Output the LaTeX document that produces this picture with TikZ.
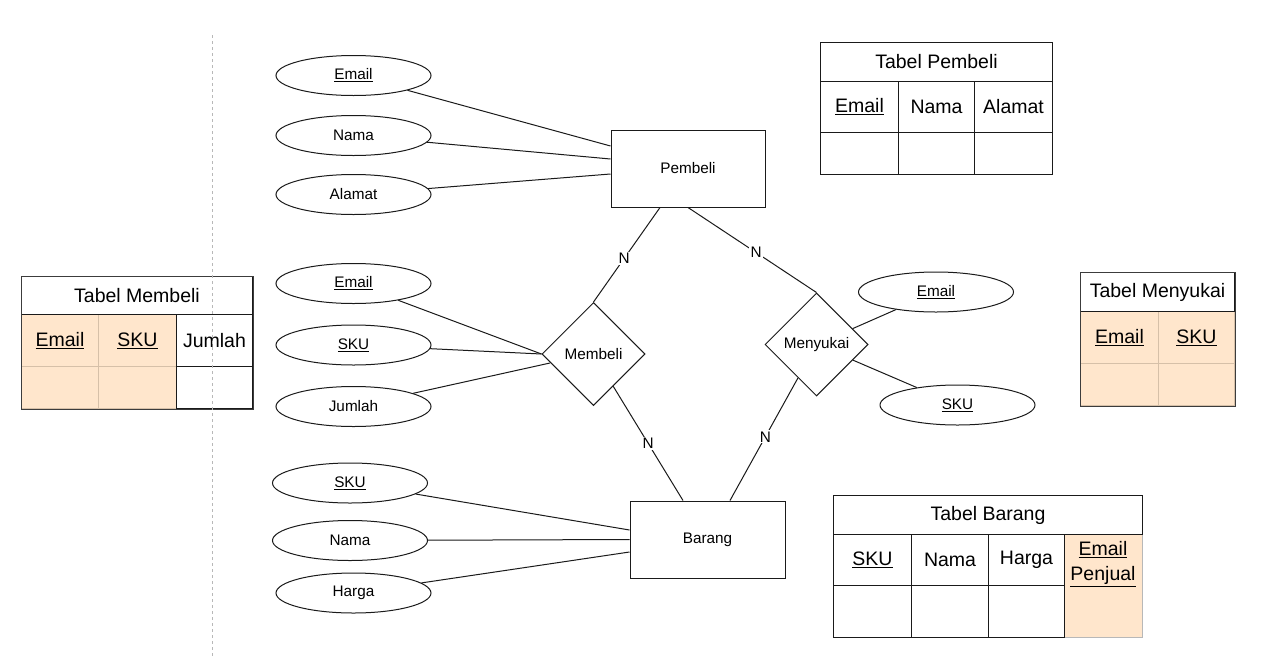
\documentclass[tikz,border=0pt]{standalone}
\usepackage{fontspec}
\setmainfont{Liberation Sans}
\usetikzlibrary{shapes.geometric,calc}
\definecolor{peach}{HTML}{FFE6CC}
\definecolor{peachline}{HTML}{D6C0A8}
\definecolor{frame}{HTML}{3C3C3C}
\definecolor{ink}{HTML}{1A1A1A}
\definecolor{sep}{HTML}{B8B8B8}
\newcommand{\diagfont}{\fontsize{15.3}{18}\selectfont}
\newcommand{\tablefont}{\fontsize{19.5}{25}\selectfont}
\tikzset{
  conn/.style={line width=1pt, draw=ink},
  attr/.style={ellipse, draw=ink, line width=1pt, minimum width=155pt, minimum height=40pt, inner sep=0pt, font=\diagfont},
  entity/.style={rectangle, draw=ink, line width=1pt, minimum width=154pt, minimum height=77pt, inner sep=0pt, font=\diagfont},
  rel/.style={diamond, draw=ink, aspect=1, line width=1pt, minimum width=103pt, minimum height=103pt, inner sep=0pt, font=\diagfont},
  card/.style={fill=white, inner sep=1.2pt, font=\diagfont},
  cell/.style={draw=ink, line width=1pt, anchor=north west, inner sep=0pt, align=center, font=\tablefont},
  keycell/.style={cell, fill=peach, draw=peachline},
}
\begin{document}
\begin{tikzpicture}[x=1pt,y=-1pt]
\useasboundingbox (0,0) rectangle (1263,662);
\fill[white] (0,0) rectangle (1263,662);

% ---- entities and relationships ----
\node[entity] (pembeli) at (688,168.5) {Pembeli};
\node[entity, minimum width=155pt] (barang) at (707.5,539.5) {Barang};
\node[rel] (membeli) at (593.5,354) {Membeli};
\node[rel] (menyukai) at (816.5,344.5) {Menyukai};

% ---- attributes of Pembeli ----
\node[attr] (pbEmail) at (353.5,75.5) {\underline{Email}};
\node[attr] (pbNama) at (353.5,135.5) {Nama};
\node[attr] (pbAlamat) at (353.5,194.5) {Alamat};

% ---- attributes of Membeli ----
\node[attr] (mbEmail) at (353.5,283.5) {\underline{Email}};
\node[attr] (mbSku) at (353.5,345) {\underline{SKU}};
\node[attr] (mbJumlah) at (353.5,406.5) {Jumlah};

% ---- attributes of Menyukai ----
\node[attr] (mnEmail) at (936,292) {\underline{Email}};
\node[attr] (mnSku) at (957.5,405) {\underline{SKU}};

% ---- attributes of Barang ----
\node[attr] (brSku) at (350,483) {\underline{SKU}};
\node[attr] (brNama) at (350,540.5) {Nama};
\node[attr] (brHarga) at (353.5,593) {Harga};

% ---- attribute links ----
\draw[conn] (pbEmail) -- ([yshift=22.5pt]pembeli.west);
\draw[conn] (pbNama) -- ([yshift=9.5pt]pembeli.west);
\draw[conn] (pbAlamat) -- ([yshift=-5.5pt]pembeli.west);

\draw[conn] (mbEmail) -- (membeli.west);
\draw[conn] (mbSku) -- (membeli.west);
\draw[conn] (mbJumlah) -- ([xshift=8.5pt,yshift=-9pt]membeli.west);

\draw[conn] (mnEmail) -- (menyukai);
\draw[conn] (mnSku) -- (menyukai);

\draw[conn] (brSku) -- ([yshift=9.5pt]barang.west);
\draw[conn] (brNama) -- (barang.west);
\draw[conn] (brHarga) -- ([yshift=-12.5pt]barang.west);

% ---- relationship links with cardinalities ----
\draw[conn] (membeli.north) -- node[card, pos=0.46] {N} ([xshift=-28pt]pembeli.south);
\draw[conn] (pembeli.south) -- node[card, pos=0.53] {N} (menyukai.north);
\draw[conn] (membeli) -- node[card, pos=0.5] {N} ([xshift=-24.5pt]barang.north);
\draw[conn] (menyukai) -- node[card, pos=0.48] {N} ([xshift=22.5pt]barang.north);

% ---- Tabel Pembeli ----
\node[cell, minimum width=232pt, minimum height=39pt] (tpHead) at (820,42) {Tabel Pembeli};
\node[cell, minimum width=78pt, minimum height=51pt] (tpEmail) at (820,81) {\underline{Email}};
\node[cell, minimum width=76pt, minimum height=51pt] (tpNama) at (898,81) {Nama};
\node[cell, minimum width=78pt, minimum height=51pt] (tpAlamat) at (974,81) {Alamat};
\node[cell, minimum width=78pt, minimum height=42pt] (tpR1) at (820,132) {};
\node[cell, minimum width=76pt, minimum height=42pt] (tpR2) at (898,132) {};
\node[cell, minimum width=78pt, minimum height=42pt] (tpR3) at (974,132) {};

% ---- Tabel Membeli ----
\node[keycell, minimum width=77pt, minimum height=52pt] (tmEmail) at (21,314) {\underline{Email}};
\node[keycell, minimum width=78pt, minimum height=52pt] (tmSku) at (98,314) {\underline{SKU}};
\node[keycell, minimum width=77pt, minimum height=42pt] (tmR1) at (21,366) {};
\node[keycell, minimum width=78pt, minimum height=42pt] (tmR2) at (98,366) {};
\node[cell, minimum width=76pt, minimum height=52pt] (tmJumlah) at (176,314) {Jumlah};
\node[cell, minimum width=76pt, minimum height=42pt] (tmR3) at (176,366) {};
\node[cell, minimum width=231pt, minimum height=38pt] (tmHead) at (21,276) {Tabel Membeli};
\draw[frame, line width=1pt] (tmHead.north west) rectangle (tmR3.south east);

% ---- Tabel Menyukai ----
\node[keycell, minimum width=78pt, minimum height=52pt] (tyEmail) at (1080,311) {\underline{Email}};
\node[keycell, minimum width=76pt, minimum height=52pt] (tySku) at (1158,311) {\underline{SKU}};
\node[keycell, minimum width=78pt, minimum height=42pt] (tyR1) at (1080,363) {};
\node[keycell, minimum width=76pt, minimum height=42pt] (tyR2) at (1158,363) {};
\node[cell, minimum width=154pt, minimum height=39pt] (tyHead) at (1080,272) {Tabel Menyukai};
\draw[frame, line width=1pt] (tyHead.north west) rectangle (tyR2.south east);

% ---- Tabel Barang ----
\node[keycell, draw=sep, minimum width=78pt, minimum height=103pt] (tbPenjual) at (1064,534) {};
\node[font=\tablefont, align=center, inner sep=0pt] (tbPenjualTxt) at (1103,564) {\underline{Email}\\\underline{Penjual}};
\node[cell, minimum width=78pt, minimum height=51pt] (tbSku) at (833,534) {\underline{SKU}};
\node[cell, minimum width=77pt, minimum height=51pt] (tbNama) at (911,534) {Nama};
\node[cell, minimum width=76pt, minimum height=51pt] (tbHarga) at (988,534) {Harga};
\node[cell, minimum width=78pt, minimum height=52pt] (tbR1) at (833,585) {};
\node[cell, minimum width=77pt, minimum height=52pt] (tbR2) at (911,585) {};
\node[cell, minimum width=76pt, minimum height=52pt] (tbR3) at (988,585) {};
\node[cell, minimum width=309pt, minimum height=39pt] (tbHead) at (833,495) {Tabel Barang};

% ---- dashed separator ----
\coordinate (sepTop) at (212,35);
\coordinate (sepBot) at (212,656);
\draw[sep, line width=0.9pt, dash pattern=on 3pt off 3pt] (sepTop) -- (sepBot);
\end{tikzpicture}
\end{document}
